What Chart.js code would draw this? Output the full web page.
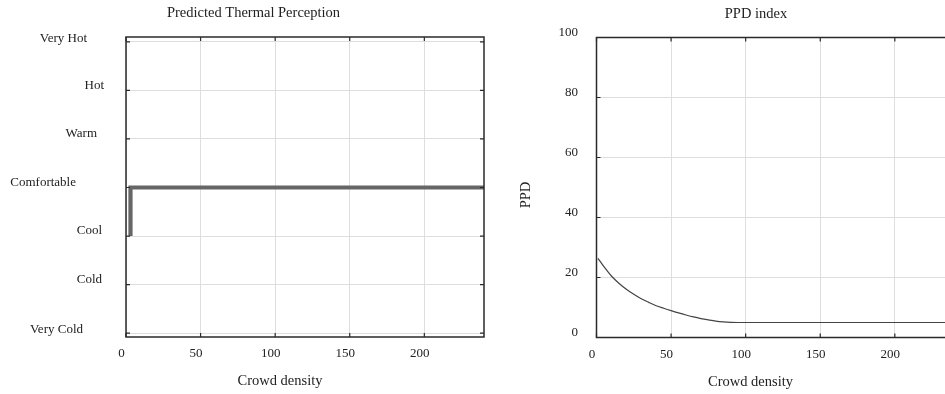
<!DOCTYPE html>
<html><head><meta charset="utf-8">
<script src="https://cdn.jsdelivr.net/npm/chart.js@4.4.1/dist/chart.umd.min.js"></script>
<style>
html,body{margin:0;padding:0;background:#fff;overflow:hidden;}
#wrap{position:relative;width:945px;height:394px;overflow:hidden;background:#fff;}
#c1{position:absolute;left:0;top:0;}
#c2{position:absolute;left:507px;top:0;}
</style></head><body>
<div id="wrap"><canvas id="c1" width="507" height="394"></canvas><canvas id="c2" width="498" height="394"></canvas></div>
<script>
// ---------- data ----------
const perceptionDensity = [3, 3, 240];
const perceptionValues  = [-1, 0, 0];
const perceptionLevels      = ['Very Cold', 'Cold', 'Cool', 'Comfortable', 'Warm', 'Hot', 'Very Hot'];
const perceptionLevelValues = [-3, -2, -1, 0, 1, 2, 3];

const ppdDensity = [1, 5, 10, 15, 20, 25, 30, 35, 40, 45, 50, 55, 60, 65, 70, 75, 80, 85, 90, 95, 100, 240];
const ppdValues  = [26.4, 23.6, 20.5, 18.1, 16.1, 14.4, 12.9, 11.7, 10.6, 9.75, 8.95, 8.2, 7.5, 6.85, 6.3, 5.85, 5.45, 5.2, 5.05, 5.0, 5.0, 5.0];

const densityTicks = [0, 50, 100, 150, 200];
const ppdTicks = [0, 20, 40, 60, 80, 100];

// ---------- styles ----------
const serif = "'Liberation Serif', 'Times New Roman', serif";
const textColor = '#222';
const gridColor = '#dedede';
// horizontal placement of the perception labels (right edge, px from plot left)
const levelLabelDx = [-43, -24, -24, -50, -29, -22, -39];
const levelLabelDy = [-3.5, -5, -5, -5, -5.5, -5, -3];

const decorPlugin = {
  id: 'decor',
  afterDatasetsDraw(chart, args, o) {
    const ctx = chart.ctx, a = chart.chartArea, xs = chart.scales.x, ys = chart.scales.y;
    ctx.save();
    ctx.strokeStyle = o.frameColor;
    ctx.lineWidth = o.frameWidth;
    ctx.strokeRect(a.left, a.top, a.right - a.left, a.bottom - a.top);
    ctx.lineWidth = o.tickWidth;
    ctx.beginPath();
    xs.ticks.forEach(t => {
      const p = xs.getPixelForValue(t.value);
      ctx.moveTo(p, a.top); ctx.lineTo(p, a.top + o.tickLen);
      ctx.moveTo(p, a.bottom); ctx.lineTo(p, a.bottom - o.tickLen);
    });
    ys.ticks.forEach(t => {
      const p = ys.getPixelForValue(t.value);
      ctx.moveTo(a.left, p); ctx.lineTo(a.left + o.tickLen, p);
      ctx.moveTo(a.right, p); ctx.lineTo(a.right - o.tickLen, p);
    });
    ctx.stroke();

    ctx.fillStyle = textColor;
    ctx.font = '14.5px ' + serif;
    ctx.textAlign = 'center';
    ctx.textBaseline = 'middle';
    if (o.xTitle) ctx.fillText(o.xTitle, (a.left + a.right) / 2 + o.xTitleDx, a.bottom + o.xTitleDy);
    if (o.yTitle) {
      ctx.save();
      ctx.translate(a.left + o.yTitleDx, (a.top + a.bottom) / 2 + o.yTitleDy);
      ctx.rotate(-Math.PI / 2);
      ctx.fillText(o.yTitle, 0, 0);
      ctx.restore();
    }
    if (o.levelLabels) {
      ctx.font = '13px ' + serif;
      ctx.textAlign = 'right';
      ys.ticks.forEach(t => {
        const i = perceptionLevelValues.indexOf(t.value);
        if (i < 0) return;
        ctx.fillText(perceptionLevels[i], a.left + levelLabelDx[i], ys.getPixelForValue(t.value) + levelLabelDy[i]);
      });
    }
    ctx.restore();
  }
};

function titleOpts(text) {
  return {
    display: true, text: text, color: textColor,
    font: { family: serif, size: 14.5, weight: 'normal' },
    padding: { top: 4.8, bottom: 14.8 }
  };
}

function xScale(h) {
  return {
    type: 'linear', min: 0, max: 240,
    afterBuildTicks: s => { s.ticks = densityTicks.map(v => ({ value: v })); },
    afterFit: s => { s.height = h; },
    grid: { color: gridColor, lineWidth: 1, drawTicks: false },
    border: { display: false },
    ticks: { color: textColor, font: { family: serif, size: 13 }, padding: 9, labelOffset: -4.5, maxRotation: 0 }
  };
}

const decorBase = { frameColor: '#2a2a2a', frameWidth: 1.5, tickWidth: 1.2, tickLen: 4, xTitle: 'Crowd density', xTitleDx: -25, xTitleDy: 44.5 };

new Chart(document.getElementById('c1'), {
  type: 'line',
  data: {
    datasets: [{
      data: perceptionDensity.map((d, i) => ({ x: d, y: perceptionValues[i] })),
      borderColor: '#666666', borderWidth: 4.2, pointRadius: 0,
      borderJoinStyle: 'miter', borderCapStyle: 'butt', tension: 0, fill: false
    }]
  },
  options: {
    responsive: false, animation: false, devicePixelRatio: 1,
    layout: { padding: { left: 23, right: 23, top: 0, bottom: 0 } },
    plugins: {
      legend: { display: false }, tooltip: { enabled: false },
      title: titleOpts('Predicted Thermal Perception'),
      decor: Object.assign({}, decorBase, { levelLabels: true })
    },
    scales: {
      x: xScale(57),
      y: {
        type: 'linear', min: -3.08, max: 3.1,
        afterBuildTicks: s => { s.ticks = perceptionLevelValues.map(v => ({ value: v })); },
        afterFit: s => { s.width = 103; },
        grid: { color: gridColor, lineWidth: 1, drawTicks: false },
        border: { display: false },
        ticks: { display: false }
      }
    }
  },
  plugins: [decorPlugin]
});

new Chart(document.getElementById('c2'), {
  type: 'line',
  data: {
    datasets: [{
      data: ppdDensity.map((d, i) => ({ x: d, y: ppdValues[i] })),
      borderColor: '#444444', borderWidth: 1.2, pointRadius: 0,
      cubicInterpolationMode: 'monotone', fill: false
    }]
  },
  options: {
    responsive: false, animation: false, devicePixelRatio: 1,
    layout: { padding: { left: 50.5, right: 50.5, top: 0.5, bottom: 0 } },
    plugins: {
      legend: { display: false }, tooltip: { enabled: false },
      title: titleOpts('PPD index'),
      decor: Object.assign({}, decorBase, { xTitleDy: 44.5, yTitle: 'PPD', yTitleDx: -70.5, yTitleDy: 7.5 })
    },
    scales: {
      x: xScale(56.5),
      y: {
        type: 'linear', min: 0, max: 100,
        afterBuildTicks: s => { s.ticks = ppdTicks.map(v => ({ value: v })); },
        afterFit: s => { s.width = 39; },
        grid: { color: gridColor, lineWidth: 1, drawTicks: false },
        border: { display: false },
        ticks: { color: textColor, font: { family: serif, size: 13 }, padding: 18.5, labelOffset: -4.5 }
      }
    }
  },
  plugins: [decorPlugin]
});
</script>
</body></html>
